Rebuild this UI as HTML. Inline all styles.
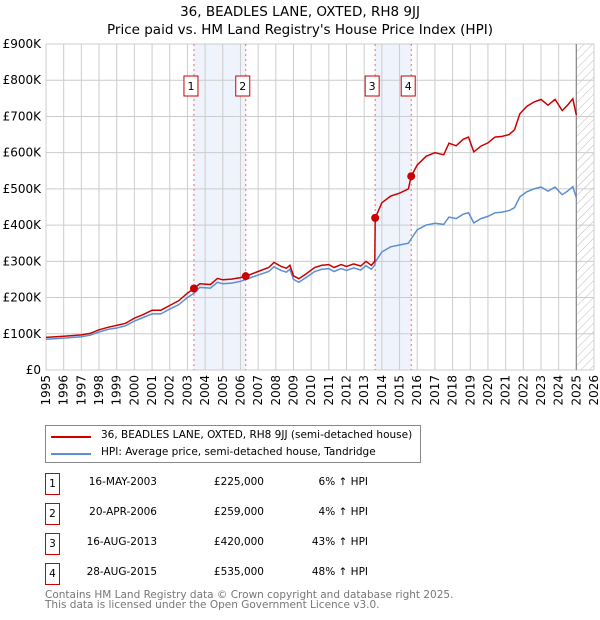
<!DOCTYPE html>
<html><head><meta charset="utf-8"><style>
body{margin:0;background:#fff;font-family:"DejaVu Sans","Liberation Sans",sans-serif;}
#wrap{position:relative;width:600px;height:620px;overflow:hidden;}
.t{position:absolute;font-size:10.5px;color:#000;white-space:nowrap;}
.box{position:absolute;width:13px;height:20px;border:1px solid #c00;font-size:10.5px;text-align:center;line-height:20px;}
</style></head><body><div id="wrap">
<svg id="chart" width="600" height="420" style="position:absolute;left:0;top:0" font-family="DejaVu Sans, Liberation Sans, sans-serif" font-size="12">
<defs><pattern id="hatch" patternUnits="userSpaceOnUse" width="6" height="6" patternTransform="rotate(45)"><line x1="0" y1="0" x2="0" y2="6" stroke="#bbb" stroke-width="1"/></pattern></defs>
<text x="300" y="16" text-anchor="middle" font-size="13.5">36, BEADLES LANE, OXTED, RH8 9JJ</text>
<text x="300" y="34" text-anchor="middle" font-size="13.5">Price paid vs. HM Land Registry's House Price Index (HPI)</text>
<g id="grid"></g><g id="marks"></g>
</svg>
<div style="position:absolute;left:45px;top:425px;width:374px;height:36px;border:1px solid #888;">
<div style="position:absolute;left:5px;top:10px;width:40px;height:2px;background:#c00"></div>
<div class="t" style="left:55px;top:3px">36, BEADLES LANE, OXTED, RH8 9JJ (semi-detached house)</div>
<div style="position:absolute;left:5px;top:27px;width:40px;height:2px;background:#5b8fd4"></div>
<div class="t" style="left:55px;top:20px">HPI: Average price, semi-detached house, Tandridge</div>
</div>
<div id="table"></div>
<div class="t" style="left:45px;top:589px;color:#777">Contains HM Land Registry data © Crown copyright and database right 2025.</div>
<div class="t" style="left:45px;top:599px;color:#777">This data is licensed under the Open Government Licence v3.0.</div>
</div>
<script>
const hpiDates=[1995,1996,1997,1997.5,1998,1998.5,1999,1999.5,2000,2000.5,2001,2001.5,2002,2002.5,2003,2003.37,2003.7,2004.3,2004.7,2005,2005.5,2006,2006.3,2007,2007.6,2007.9,2008.3,2008.6,2008.8,2009,2009.3,2009.7,2010.2,2010.6,2011,2011.3,2011.7,2012,2012.4,2012.8,2013.1,2013.4,2013.6,2013.62,2014,2014.5,2015,2015.5,2015.66,2016,2016.5,2017,2017.5,2017.8,2018.2,2018.6,2018.9,2019.2,2019.6,2020,2020.4,2020.8,2021.2,2021.5,2021.8,2022.2,2022.6,2023,2023.4,2023.8,2024.2,2024.5,2024.8,2025];
const hpiValues=[85,88,92,96,105,112,116,122,135,145,155,155,168,180,200,212,228,226,242,238,240,245,250,262,272,285,275,270,278,250,242,255,272,278,280,272,280,275,282,276,288,278,290,298,326,340,345,350,362,387,400,405,402,422,418,430,434,406,418,424,434,436,440,448,478,492,500,505,494,505,484,494,506,476];
const priceValues=[90,93,97,101,111,118,123,129,143,153,165,165,178,191,212,225,238,236,253,249,251,255,259,272,283,297,286,281,289,260,252,265,283,289,291,283,291,286,293,287,300,289,300,420,462,480,488,500,535,566,590,600,594,626,619,637,643,602,618,627,643,645,650,663,707,728,740,747,731,747,716,731,749,704];
const saleDates=[2003.37,2006.3,2013.62,2015.66];
const salePrices=[225,259,420,535];
const saleLabels=["1","2","3","4"];
const saleDateText=["16-MAY-2003","20-APR-2006","16-AUG-2013","28-AUG-2015"];
const salePriceText=["£225,000","£259,000","£420,000","£535,000"];
const salePctText=["6% ↑ HPI","4% ↑ HPI","43% ↑ HPI","48% ↑ HPI"];
const yTicks=[0,100,200,300,400,500,600,700,800,900];
const yTickLabels=["£0","£100K","£200K","£300K","£400K","£500K","£600K","£700K","£800K","£900K"];
const xYears=[1995,1996,1997,1998,1999,2000,2001,2002,2003,2004,2005,2006,2007,2008,2009,2010,2011,2012,2013,2014,2015,2016,2017,2018,2019,2020,2021,2022,2023,2024,2025,2026];

const NS="http://www.w3.org/2000/svg";
const X0=46,X1=594,Y0=370,Y1=44;
const xs=y=>X0+(y-1995)/(2026-1995)*(X1-X0);
const ys=v=>Y0-v/900*(Y0-Y1);
function mk(tag,at,parent){const e=document.createElementNS(NS,tag);for(const k in at)e.setAttribute(k,at[k]);parent.appendChild(e);return e;}
const grid=document.getElementById('grid'),marks=document.getElementById('marks');
for(let i=0;i<4;i+=2){const r=mk('rect',{x:xs(saleDates[i]),y:Y1,width:xs(saleDates[i+1])-xs(saleDates[i]),height:Y0-Y1,fill:'#eef3fc'},grid);
}
const h=mk('rect',{x:xs(2025),y:Y1,width:X1-xs(2025),height:Y0-Y1,fill:'url(#hatch)'},grid);

yTicks.forEach((v,i)=>{mk('line',{x1:X0,x2:X1,y1:ys(v),y2:ys(v),stroke:'#ccc'},grid);
const t=mk('text',{x:X0-5,y:ys(v)+4,'text-anchor':'end'},grid);t.textContent=yTickLabels[i];
});
xYears.forEach(y=>{mk('line',{x1:xs(y),x2:xs(y),y1:Y1,y2:Y0,stroke:'#ccc'},grid);
const t=mk('text',{x:0,y:0,'text-anchor':'end',transform:`translate(${xs(y)+4},${Y0+5}) rotate(-90)`},grid);t.textContent=y;
});
mk('line',{x1:xs(2025),x2:xs(2025),y1:Y1,y2:Y0,stroke:'#888','stroke-width':1.2},grid);
saleDates.forEach((d,i)=>{const l=mk('line',{x1:xs(d),x2:xs(d),y1:Y1,y2:Y0,stroke:'#f66','stroke-dasharray':'2,3'},grid);

const b=mk('rect',{x:xs(d)-10,y:76,width:14,height:20,fill:'#fff',stroke:'#c00'},marks);

const t=mk('text',{x:xs(d)-3,y:90,'text-anchor':'middle','font-size':11},marks);t.textContent=saleLabels[i];});
function path(vals){return hpiDates.map((d,i)=>(i?'L':'M')+xs(d).toFixed(1)+','+ys(vals[i]).toFixed(1)).join('');}
const pb=mk('path',{d:path(hpiValues),fill:'none',stroke:'#5b8fd4','stroke-width':1.5},marks);

const pr=mk('path',{d:path(priceValues),fill:'none',stroke:'#cc0000','stroke-width':1.5},marks);

saleDates.forEach((d,i)=>{const c=mk('circle',{cx:xs(d),cy:ys(salePrices[i]),r:4,fill:'#cc0000'},marks);
});
const tb=document.getElementById('table');
saleLabels.forEach((lab,i)=>{const top=473+i*30;
const row=document.createElement('div');row.style.cssText=`position:absolute;left:0;top:${top}px;width:600px;height:22px`;

row.innerHTML=`<div class="box" style="left:45px;top:0">${lab}</div>
<div class="t" style="right:443px;top:3px">${saleDateText[i]}</div>
<div class="t" style="right:336px;top:3px">${salePriceText[i]}</div>
<div class="t" style="right:232px;top:3px">${salePctText[i]}</div>`;
tb.appendChild(row);});
</script></body></html>
